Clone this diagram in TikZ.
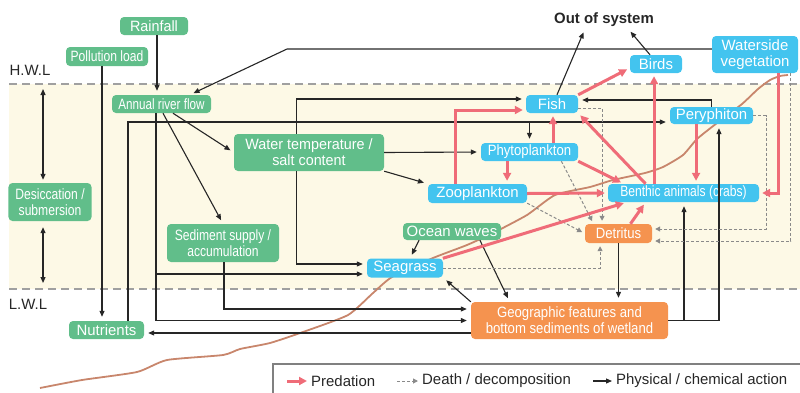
\documentclass[tikz,border=0pt]{standalone}
\usepackage{fontspec}
\setmainfont{Liberation Sans}
\newfontfamily\fnA[FakeStretch=0.78]{Liberation Sans}
\newfontfamily\fnB[FakeStretch=0.81]{Liberation Sans}
\newfontfamily\fnC[FakeStretch=0.88]{Liberation Sans}
\newfontfamily\fnD[FakeStretch=0.96]{Liberation Sans}
\usetikzlibrary{arrows.meta}

\definecolor{envgreen}{HTML}{61BE8A}
\definecolor{bioblue}{HTML}{43C4EF}
\definecolor{mudorange}{HTML}{F5934F}
\definecolor{predpink}{HTML}{EF6C78}
\definecolor{bandbeige}{HTML}{FDF9E6}
\definecolor{tidegray}{HTML}{A0A0A0}
\definecolor{shorebrown}{HTML}{C8866C}
\definecolor{ink}{HTML}{262626}
\definecolor{deathgray}{HTML}{8A8A8A}

\tikzset{
  box/.style={rounded corners=4bp, inner sep=0pt, text=white, align=center,
              font=\fontsize{15}{16}\selectfont},
  env/.style={box, fill=envgreen},
  bio/.style={box, fill=bioblue},
  mud/.style={box, fill=mudorange},
  nA/.style={font=\fnA\fontsize{15}{16}\selectfont},
  nB/.style={font=\fnB\fontsize{15}{16}\selectfont},
  nC/.style={font=\fnC\fontsize{15}{16}\selectfont},
  nD/.style={font=\fnD\fontsize{15}{16}\selectfont},
  phys/.style={draw=ink, line width=1.1bp, -{Triangle[length=6bp,width=5bp]}, shorten >=4bp},
  pred/.style={draw=predpink, line width=3bp, -{Triangle[length=8bp,width=8bp]}, shorten >=3bp},
  death/.style={draw=deathgray, line width=1bp, dash pattern=on 3bp off 2bp,
                -{Triangle[length=5bp,width=5bp]}, shorten >=3bp},
  tideline/.style={draw=tidegray, line width=2bp, dash pattern=on 8bp off 5bp},
  plain/.style={inner sep=1pt, text=ink, font=\fontsize{15}{16}\selectfont},
}

\begin{document}
\begin{tikzpicture}[x=1bp,y=-1bp]
\useasboundingbox (0,0) rectangle (800,392);

% intertidal band and water levels
\fill[bandbeige] (9,84) rectangle (800,289);
\coordinate (hwlA) at (9,84);
\coordinate (hwlB) at (800,84);
\coordinate (lwlA) at (9,289);
\coordinate (lwlB) at (800,289);
\draw[tideline] (hwlA) -- (hwlB);
\draw[tideline] (lwlA) -- (lwlB);
\node[plain] (hwl) at (30,70) {H.W.L};
\node[plain] (lwl) at (28,304) {L.W.L};

% shoreline profile
\draw[shorebrown, line width=1.8bp, line join=round] plot[smooth, tension=0.35] coordinates {
  (40,388) (82,380) (137,372) (167,360) (223,355) (240,349) (270,343) (303,332)
  (348,315) (373,293) (392,277) (433,258) (467,245) (493,233) (527,215) (555,195)
  (590,187) (613,180) (645,173) (663,167) (683,155) (697,139) (717,123) (742,104)
  (758,89) (770,80) (780,76) (788,75)};

% environmental factors
\node[env, nD, minimum width=68bp, minimum height=18bp] (rain) at (154,26) {Rainfall};
\node[env, nB, minimum width=82bp, minimum height=19bp] (poll) at (107,56.5) {Pollution load};
\node[env, nA, minimum width=99bp, minimum height=18bp] (river) at (161.5,104) {Annual river flow};
\node[env, nB, minimum width=83bp, minimum height=38bp] (desic) at (50,202) {Desiccation /\\submersion};
\node[env, nD, minimum width=150bp, minimum height=37bp] (water) at (309,152.5) {Water temperature /\\salt content};
\node[env, nB, minimum width=112bp, minimum height=38bp] (sedsup) at (223,243) {Sediment supply /\\accumulation};
\node[env, minimum width=98bp, minimum height=17bp] (waves) at (452,231.5) {Ocean waves};
\node[env, minimum width=75bp, minimum height=18bp] (nutr) at (106.5,330) {Nutrients};

% organisms
\node[bio, minimum width=52bp, minimum height=18bp] (fish) at (552,104) {Fish};
\node[bio, nC, minimum width=97bp, minimum height=18bp] (phyto) at (529.5,152) {Phytoplankton};
\node[bio, minimum width=99bp, minimum height=19bp] (zoo) at (477.5,193.5) {Zooplankton};
\node[bio, nB, minimum width=151bp, minimum height=18bp] (benth) at (683.5,193) {Benthic animals (crabs)};
\node[bio, minimum width=83bp, minimum height=17bp] (pery) at (711.5,115.5) {Peryphiton};
\node[bio, minimum width=52bp, minimum height=18bp] (birds) at (656,64) {Birds};
\node[bio, minimum width=86bp, minimum height=37bp] (wveg) at (755,54.5) {Waterside\\vegetation};
\node[bio, minimum width=76bp, minimum height=19bp] (seag) at (405,268) {Seagrass};

% detritus and substrate
\node[mud, nC, minimum width=67bp, minimum height=19bp] (detr) at (618.5,233.5) {Detritus};
\node[mud, nC, minimum width=197bp, minimum height=37bp] (geo) at (569.5,320.5) {Geographic features and\\bottom sediments of wetland};

\node[plain, font=\bfseries\fontsize{15}{16}\selectfont, inner sep=2pt] (out) at (604,19.5) {Out of system};

% helper levels for orthogonal routes
\coordinate (y49) at (0,49);
\coordinate (y99) at (0,99);
\coordinate (y100) at (0,100);
\coordinate (y108) at (0,108);
\coordinate (y110) at (0,110);
\coordinate (y122) at (0,122);
\coordinate (y229) at (0,229);
\coordinate (y241) at (0,241);
\coordinate (y264) at (0,264);
\coordinate (y274) at (0,274);
\coordinate (y309) at (0,309);
\coordinate (y333) at (0,333);
\coordinate (bendV) at (287,49);
\coordinate (nutrBend) at (128,122);
\coordinate (riverJ) at (156,274);
\coordinate (geoJ) at (684,320.5);
\coordinate (peryBend) at (766,229);

% desiccation / submersion range
\draw[ink, line width=1.1bp, {Triangle[length=6bp,width=5bp]}-{Triangle[length=6bp,width=5bp]}, shorten <=5bp, shorten >=3bp]
  ([xshift=-7]desic.north |- hwlA) -- ([xshift=-7]desic.north);
\draw[ink, line width=1.1bp, {Triangle[length=6bp,width=5bp]}-{Triangle[length=6bp,width=5bp]}, shorten <=6bp, shorten >=6bp]
  ([xshift=-7]desic.south) -- ([xshift=-7]desic.south |- lwlA);

% physical / chemical actions
\draw[phys] ([xshift=3]rain.south) -- ([xshift=3]rain.south |- river.north);
\draw[phys] ([xshift=-5]poll.south) -- ([xshift=-5]poll.south |- nutr.north);
\draw[phys] (wveg.west |- y49) -- (bendV) -- ([xshift=28.5]river.north);
\draw[phys] ([xshift=11.5]river.south) -- (water.west);
\draw[phys] ([xshift=1.5]river.south) -- (sedsup.north);
\draw[phys] (nutrBend |- nutr.north) -- (nutrBend) -- (pery.west |- y122);
\draw[phys] (phyto.north |- y122) -- (phyto.north);
\draw[phys] ([xshift=-5.5]river.south) |- (geo.west);
\draw[phys] (riverJ) -- (seag.west |- y274);
\draw[phys] ([xshift=1]sedsup.south) |- (geo.west |- y309);
\draw[phys] (geo.west |- y333) -- (nutr.east |- y333);
\draw[phys] ([xshift=-13]water.north) |- (fish.west |- y99);
\draw[phys] ([xshift=-13]water.south) |- (seag.west |- y264);
\draw[phys] (water.east) -- (phyto.west);
\draw[phys] (water.south east) -- (zoo.north west);
\draw[phys] ([xshift=-33]waves.south) -- ([xshift=5]seag.north);
\draw[phys] ([xshift=28]waves.south) -- ([xshift=-60]geo.north);
\draw[phys] (geo.north west) -- (seag.south east);
\draw[phys] (detr.south) -- (detr.south |- geo.north);
\draw[phys] (geo.east) -| ([xshift=7.5]pery.south);
\draw[phys] (geoJ) -- (benth.south -| geoJ);
\draw[phys] (pery.north) |- (fish.east |- y100);
\draw[phys] ([xshift=5]fish.north) -- ([xshift=-19]out.south);
\draw[phys] ([xshift=-6]birds.north) -- ([xshift=24]out.south);

% death / decomposition
\draw[death] (fish.east |- y108) -| ([xshift=-16.5]detr.north);
\draw[death] ([xshift=32]phyto.south) -- ([xshift=-25]detr.north);
\draw[death] (zoo.south east) -- (detr.west);
\draw[death] (seag.east) -| ([xshift=-18.5]detr.south);
\draw[death] (pery.east) -| (peryBend) -- (detr.east |- y229);
\draw[death] ([xshift=36]wveg.south) |- (detr.east |- y241);

% predation
\draw[pred] (fish.north east) -- ([yshift=-4]birds.west);
\draw[pred] ([xshift=-2]birds.south |- benth.north) -- ([xshift=-2]birds.south);
\draw[pred] ([xshift=24]wveg.south) |- (benth.east);
\draw[pred] ([xshift=-15.5]pery.south) -- ([xshift=-15.5]pery.south |- benth.north);
\draw[pred] ([xshift=-38]benth.north) -- (fish.south east);
\draw[pred] ([xshift=1]fish.south |- phyto.north) -- ([xshift=1]fish.south);
\draw[pred] ([xshift=-22.5]zoo.north) |- (fish.west |- y110);
\draw[pred] ([xshift=-22.5]phyto.south) -- ([xshift=-22.5]phyto.south |- zoo.north);
\draw[pred] (phyto.south east) -- ([xshift=-60]benth.north);
\draw[pred] (zoo.east) -- (benth.west);
\draw[pred] ([xshift=12]detr.north) -- ([xshift=-38]benth.south);
\draw[pred] ([xshift=38]seag.north) -- ([xshift=-57]benth.south);

% legend
\draw[draw=gray, line width=1.3bp] (273,395) -- (273,364) -- (802,364);
\coordinate (lgA1) at (287,381); \coordinate (lgA2) at (307,381);
\coordinate (lgB1) at (397,381); \coordinate (lgB2) at (418,381);
\coordinate (lgC1) at (593,381); \coordinate (lgC2) at (612,381);
\draw[pred, shorten >=0pt] (lgA1) -- (lgA2);
\node[plain, anchor=west] (lgA) at (310,381) {Predation};
\draw[death, shorten >=0pt] (lgB1) -- (lgB2);
\node[plain, anchor=west] (lgB) at (421,381) {Death / decomposition};
\draw[phys, shorten >=0pt] (lgC1) -- (lgC2);
\node[plain, anchor=west] (lgC) at (615,381) {Physical / chemical action};
\end{tikzpicture}
\end{document}
